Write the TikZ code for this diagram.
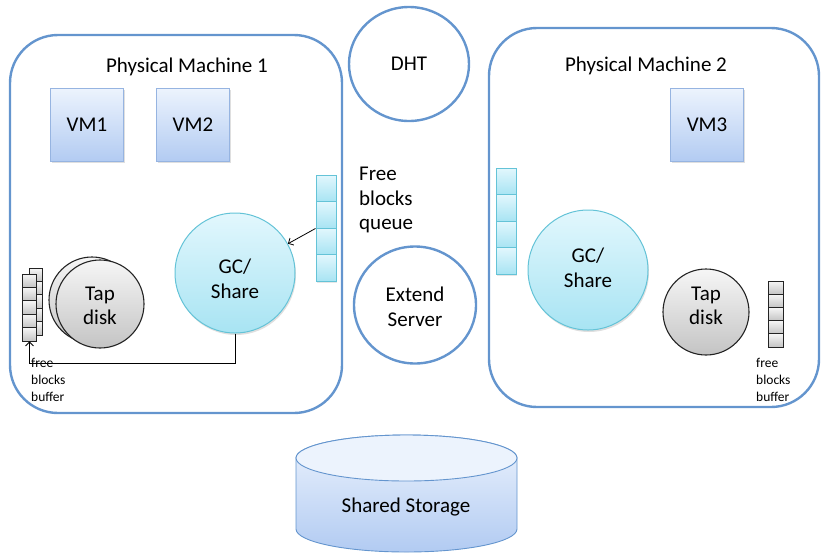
\documentclass[tikz,border=0pt]{standalone}
\usepackage{fontspec}
\setmainfont{Carlito}
\usetikzlibrary{arrows.meta,shadows,calc,shapes.geometric}
\definecolor{pmblue}{RGB}{100,149,206}
\definecolor{vmtop}{RGB}{236,243,253}
\definecolor{vmbot}{RGB}{178,203,242}
\definecolor{vmline}{RGB}{150,180,225}
\definecolor{cytop}{RGB}{226,247,253}
\definecolor{cybot}{RGB}{168,228,243}
\definecolor{cyline}{RGB}{100,195,215}
\definecolor{gytop}{RGB}{246,246,246}
\definecolor{gybot}{RGB}{196,196,196}
\definecolor{gyline}{RGB}{35,35,35}
\tikzset{
  every node/.style={font=\fontsize{21}{24.5}\selectfont, align=center, inner sep=0pt},
  pmbox/.style={draw=pmblue, line width=2.4pt, rounded corners=48pt},
  bigcircle/.style={draw=pmblue, line width=2.4pt, ellipse},
  vmbox/.style={draw=vmline, line width=0.9pt, top color=vmtop, bottom color=vmbot,
     minimum width=73pt, minimum height=73pt,
     drop shadow={opacity=0.25, shadow xshift=1.2pt, shadow yshift=-1.5pt}},
  gcnode/.style={circle, draw=cyline, line width=1pt, top color=cytop, bottom color=cybot,
     minimum size=120pt,
     drop shadow={opacity=0.25, shadow xshift=1pt, shadow yshift=-2pt}},
  qcell/.style={draw=cyline, line width=0.9pt, top color=cytop, bottom color=cybot,
     minimum width=20pt, minimum height=26.5pt,
     drop shadow={opacity=0.2, shadow xshift=1pt, shadow yshift=-1.5pt}},
  disknode/.style={circle, draw=gyline, line width=1.1pt, top color=gytop, bottom color=gybot,
     minimum size=86pt},
  bcell/.style={draw=gyline, line width=0.8pt, top color=gytop, bottom color=gybot,
     minimum width=13.5pt, minimum height=13.4pt},
  small/.style={font=\fontsize{13.5}{17}\selectfont, align=left},
  arr/.style={draw=black, line width=0.8pt, -{Straight Barb[length=4pt,width=8pt]}},
}
\begin{document}
\begin{tikzpicture}[x=1pt,y=-1pt]
\useasboundingbox (0,0) rectangle (821,555);
% Physical machines
\draw[pmbox] (10,35) rectangle (342,413);
\draw[pmbox] (489,28) rectangle (819,407);
\node (pm1lbl) at (187,67) {Physical Machine 1};
\node (pm2lbl) at (646,66) {Physical Machine 2};
% DHT and Extend server
\node[bigcircle, minimum width=120pt, minimum height=114pt] (dht) at (409,64) {DHT};
\node[bigcircle, minimum width=122pt, minimum height=117pt] (ext) at (415,305) {};
\node (extlbl) at (415,307) {Extend\\Server};
% VMs
\node[vmbox] (vm1) at (87,125) {VM1};
\node[vmbox] (vm2) at (193,125) {VM2};
\node[vmbox] (vm3) at (707,125) {VM3};
% GC/Share
\node[gcnode] (lgc) at (235,273) {};
\node (lgclbl) at (235,279) {GC/\\Share};
\node[gcnode] (rgc) at (588,270) {};
\node (rgclbl) at (588,268) {GC/\\Share};
% Free blocks queues
\node[qcell] (lq1) at (326,188.25) {};
\node[qcell] (lq2) at (326,214.75) {};
\node[qcell] (lq3) at (326,241.25) {};
\node[qcell] (lq4) at (326,267.75) {};
\node[qcell] (rq1) at (506,181.25) {};
\node[qcell] (rq2) at (506,207.75) {};
\node[qcell] (rq3) at (506,234.25) {};
\node[qcell] (rq4) at (506,260.75) {};
\node[anchor=north west, align=left] (fbq) at (359,167) {Free\\blocks\\queue};
% Tap disks
\node[disknode] (ltapb) at (92,300) {};
\node[disknode, minimum size=88pt] (ltap) at (100,304) {};
\node (ltaplbl) at (100,306) {Tap\\disk};
\node[disknode] (rtap) at (706,312) {};
\node (rtaplbl) at (706,306) {Tap\\disk};
% Left free blocks buffer (two stacks)
\foreach \i in {1,...,5} {
  \node[bcell] (lbb\i) at (36,{268+6.7+(\i-1)*13.4}) {};
}
\foreach \i in {1,...,5} {
  \node[bcell] (lbf\i) at (29.5,{274+6.7+(\i-1)*13.4}) {};
}
\node[small, anchor=north west] (lbuf) at (31,358) {free\\blocks\\buffer};
% Right free blocks buffer
\foreach \i in {1,...,5} {
  \node[bcell, minimum width=15pt, minimum height=13.2pt] (rb\i) at (775.5,{281+6.6+(\i-1)*13.2}) {};
}
\node[small, anchor=north west] (rbuf) at (756,358) {free\\blocks\\buffer};
% Connectors
\draw[arr] (lq2.south west) -- (lgc);
\draw[arr] (lgc.south) -- ++(0,29.5) -| (lbf5.south);
% Shared storage
\path[draw=pmblue, line width=0.9pt, top color=vmtop, bottom color=vmbot]
  (296,458) -- (296,529) arc[start angle=180, end angle=360, x radius=110.5pt, y radius=23pt]
  -- (517,458) arc[start angle=0, end angle=180, x radius=110.5pt, y radius=23pt] -- cycle;
\draw[pmblue, line width=0.9pt, fill=vmtop] (406.5,458) ellipse[x radius=110.5pt, y radius=23pt];
\node (store) at (406,507) {Shared Storage};
\end{tikzpicture}
\end{document}
